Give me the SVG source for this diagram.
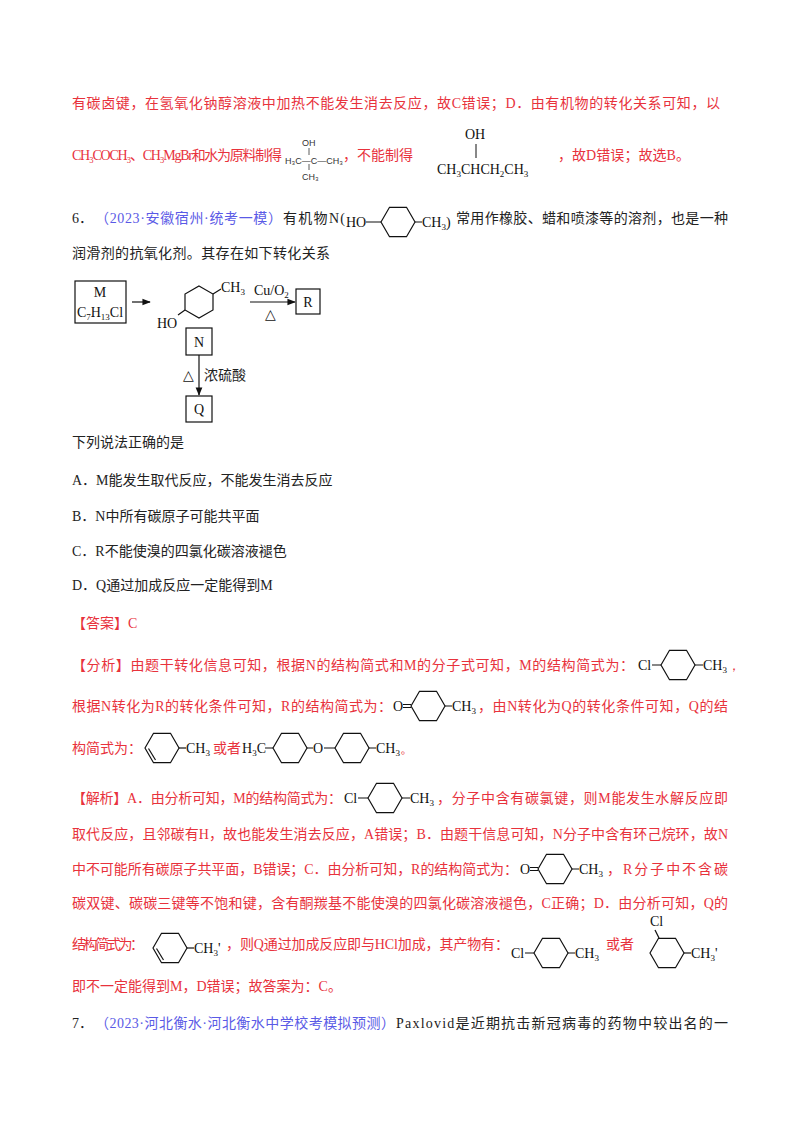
<svg xmlns="http://www.w3.org/2000/svg" width="800" height="1132" viewBox="0 0 800 1132">
<style>
text{font-family:"Liberation Serif","Noto Sans CJK SC",serif;font-size:14px;fill:#222}
.r{fill:#e8323c}
.b{fill:#5a5ae6}
.c{font-family:"Liberation Serif",serif;font-size:14px;fill:#111}
.s{font-family:"Liberation Sans",sans-serif;font-size:9px;fill:#333}
.ln{stroke:#111;stroke-width:1.2;fill:none}
</style>
<defs>
<path id="hx" d="M-17,0 L-8.5,-14.7 L8.5,-14.7 L17,0 L8.5,14.7 L-8.5,14.7 Z" class="ln"/>
<g id="hxe"><use href="#hx"/><path d="M-13.5,0.5 L-6.5,12" class="ln"/></g>
<marker id="ar" viewBox="0 0 10 10" refX="9" refY="5" markerWidth="7" markerHeight="7" orient="auto"><path d="M0,1 L10,5 L0,9 Z" fill="#111"/></marker>
</defs>
<rect width="800" height="1132" fill="#fff"/>

<text class="r" x="72" y="108" textLength="648">有碳卤键，在氢氧化钠醇溶液中加热不能发生消去反应，故C错误；D．由有机物的转化关系可知，以</text>
<text class="r" x="72" y="160" textLength="210">CH₃COCH₃、CH₃MgBr和水为原料制得</text>
<g id="tbu">
<text class="s" x="302" y="146">OH</text>
<text class="s" x="285" y="164">H₃C—C—CH₃</text>
<path d="M309,148 V155 M309,164 V170" stroke="#333" stroke-width="0.8"/>
<text class="s" x="302" y="180">CH₃</text>
</g>
<text class="r" x="343" y="160">，不能制得</text>
<g id="sbu">
<text class="c" x="465" y="139">OH</text>
<path d="M476,144 V158" stroke="#111" stroke-width="1"/>
<text class="c" x="437" y="174">CH<tspan font-size="9" dy="3">3</tspan><tspan dy="-3">CHCH</tspan><tspan font-size="9" dy="3">2</tspan><tspan dy="-3">CH</tspan><tspan font-size="9" dy="3">3</tspan></text>
</g>
<text class="r" x="558" y="160" textLength="132">，故D错误；故选B。</text>

<text x="72" y="223">6．</text>
<text class="b" x="95" y="223" textLength="187">（2023·安徽宿州·统考一模）</text>
<text x="283" y="223" textLength="62">有机物N(</text>
<g id="Nin">
<text class="c" x="346" y="227">HO</text>
<path d="M366,222 H381 M415,222 H422" class="ln"/>
<use href="#hx" x="398" y="222"/>
<text class="c" x="422" y="227">CH<tspan font-size="9" dy="3">3</tspan><tspan dy="-3">)</tspan></text>
</g>
<text x="456" y="223" textLength="272">常用作橡胶、蜡和喷漆等的溶剂，也是一种</text>
<text x="72" y="258" textLength="258">润滑剂的抗氧化剂。其存在如下转化关系</text>

<g id="M"><rect x="75" y="281" width="51" height="42" class="ln"/>
<text class="c" x="100" y="297" text-anchor="middle">M</text>
<text class="c" x="100" y="317" text-anchor="middle">C<tspan font-size="9" dy="3">7</tspan><tspan dy="-3">H</tspan><tspan font-size="9" dy="3">13</tspan><tspan dy="-3">Cl</tspan></text></g>
<g id="Nmol">
<path d="M199,286 L213,294 L213,310 L199,318 L185,310 L185,294 Z" class="ln"/>
<path d="M213,294 L221,289 M185,310 L178,315" class="ln"/>
<text class="c" x="221" y="292">CH<tspan font-size="9" dy="3">3</tspan></text>
<text class="c" x="157" y="328">HO</text>
</g>
<g id="R"><rect x="296" y="289" width="24" height="25" class="ln"/><text class="c" x="308" y="307" text-anchor="middle">R</text></g>
<g id="N"><rect x="186" y="328" width="26" height="27" class="ln"/><text class="c" x="199" y="347" text-anchor="middle">N</text></g>
<g id="Q"><rect x="186" y="396" width="26" height="26" class="ln"/><text class="c" x="199" y="414" text-anchor="middle">Q</text></g>
<g id="connectors">
<line x1="132" y1="302" x2="150" y2="302" class="ln" marker-end="url(#ar)"/>
<line x1="250" y1="302" x2="295" y2="302" class="ln" marker-end="url(#ar)"/>
<text class="c" x="254" y="295">Cu/O<tspan font-size="9" dy="3">2</tspan></text>
<text class="c" x="265" y="319">△</text>
<line x1="199" y1="355" x2="199" y2="395" class="ln" marker-end="url(#ar)"/>
<text class="c" x="183" y="380">△</text>
<text x="204" y="380">浓硫酸</text>
</g>

<text x="72" y="447">下列说法正确的是</text>
<text x="72" y="485">A．M能发生取代反应，不能发生消去反应</text>
<text x="72" y="521">B．N中所有碳原子可能共平面</text>
<text x="72" y="556">C．R不能使溴的四氯化碳溶液褪色</text>
<text x="72" y="590">D．Q通过加成反应一定能得到M</text>
<text class="r" x="72" y="628">【答案】C</text>

<text class="r" x="72" y="670" textLength="562">【分析】由题干转化信息可知，根据N的结构简式和M的分子式可知，M的结构简式为：</text>
<text class="c" x="638" y="670">Cl</text><path d="M652,665 H661 M695,665 H703" class="ln"/><use href="#hx" x="678" y="665"/><text class="c" x="703" y="670">CH<tspan font-size="9" dy="3">3</tspan><tspan dy="-3" class="r">，</tspan></text>

<text class="r" x="72" y="711" textLength="320">根据N转化为R的转化条件可知，R的结构简式为：</text>
<text class="c" x="393" y="711">O</text><path d="M403,704.5 H411 M403,707.5 H411 M445,706 H452" class="ln"/><use href="#hx" x="428" y="706"/><text class="c" x="452" y="711">CH<tspan font-size="9" dy="3">3</tspan></text>
<text class="r" x="478" y="711" textLength="250">，由N转化为Q的转化条件可知，Q的结</text>

<text class="r" x="72" y="753" textLength="70">构简式为：</text>
<use href="#hxe" x="162" y="748"/><path d="M179,748 H186" class="ln"/><text class="c" x="186" y="753">CH<tspan font-size="9" dy="3">3</tspan></text>
<text class="r" x="213" y="753">或者</text>
<text class="c" x="242" y="753">H<tspan font-size="9" dy="3">3</tspan><tspan dy="-3">C</tspan></text>
<path d="M265,748 H273 M307,748 H313 M324,748 H335 M369,748 H376" class="ln"/>
<use href="#hx" x="290" y="748"/><text class="c" x="313" y="753">O</text><use href="#hx" x="352" y="748"/><text class="c" x="376" y="753">CH<tspan font-size="9" dy="3">3</tspan><tspan dy="-3" class="r">。</tspan></text>

<text class="r" x="72" y="803" textLength="270">【解析】A．由分析可知，M的结构简式为：</text>
<text class="c" x="344" y="803">Cl</text><path d="M358,798 H368 M402,798 H410" class="ln"/><use href="#hx" x="385" y="798"/><text class="c" x="410" y="803">CH<tspan font-size="9" dy="3">3</tspan></text>
<text class="r" x="437" y="803" textLength="291">，分子中含有碳氯键，则M能发生水解反应即</text>
<text class="r" x="72" y="839" textLength="656">取代反应，且邻碳有H，故也能发生消去反应，A错误；B．由题干信息可知，N分子中含有环己烷环，故N</text>
<text class="r" x="72" y="874" textLength="446">中不可能所有碳原子共平面，B错误；C．由分析可知，R的结构简式为：</text>
<text class="c" x="520" y="874">O</text><path d="M530,867.5 H538 M530,870.5 H538 M572,869 H579" class="ln"/><use href="#hx" x="555" y="869"/><text class="c" x="579" y="874">CH<tspan font-size="9" dy="3">3</tspan></text>
<text class="r" x="607" y="874" textLength="121">，R分子中不含碳</text>
<text class="r" x="72" y="908" textLength="656">碳双键、碳碳三键等不饱和键，含有酮羰基不能使溴的四氯化碳溶液褪色，C正确；D．由分析可知，Q的</text>
<text class="r" x="72" y="949" textLength="72">结构简式为：</text>
<use href="#hxe" x="170" y="948"/><path d="M187,948 H194" class="ln"/><text class="c" x="194" y="953">CH<tspan font-size="9" dy="3">3</tspan><tspan dy="-3">'</tspan></text>
<text class="r" x="226" y="949" textLength="283">，则Q通过加成反应即与HCl加成，其产物有：</text>
<text class="c" x="511" y="958">Cl</text><path d="M525,953 H534 M568,953 H575" class="ln"/><use href="#hx" x="551" y="953"/><text class="c" x="575" y="958">CH<tspan font-size="9" dy="3">3</tspan></text>
<text class="r" x="606" y="949">或者</text>
<text class="c" x="650" y="926">Cl</text><path d="M655,930 L659,938" class="ln"/>
<use href="#hx" x="667" y="953"/><path d="M684,953 H691" class="ln"/><text class="c" x="691" y="958">CH<tspan font-size="9" dy="3">3</tspan><tspan dy="-3">'</tspan></text>
<text class="r" x="72" y="991">即不一定能得到M，D错误；故答案为：C。</text>

<text x="72" y="1028">7．</text>
<text class="b" x="95" y="1028" textLength="300">（2023·河北衡水·河北衡水中学校考模拟预测）</text>
<text x="396" y="1028" textLength="332">Paxlovid是近期抗击新冠病毒的药物中较出名的一</text>
</svg>
